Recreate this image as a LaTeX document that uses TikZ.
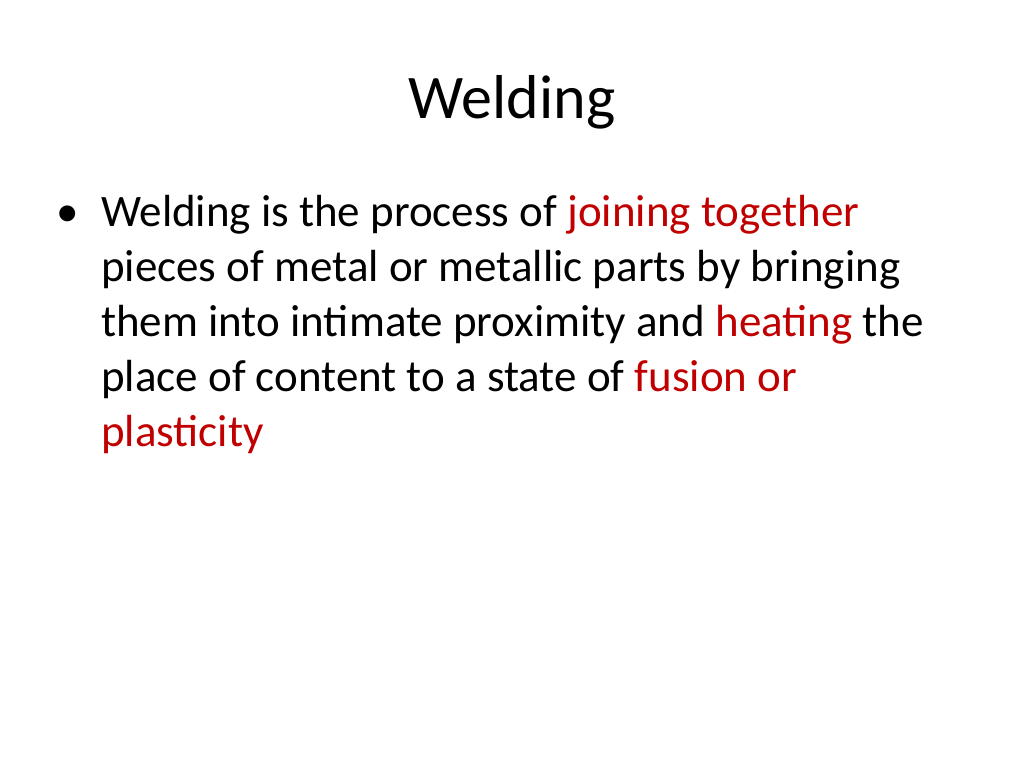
\documentclass[tikz,border=0pt]{standalone}
\usepackage{fontspec}
\setmainfont{Carlito}
\usepackage{xcolor}
\definecolor{slidered}{HTML}{C00000}
\begin{document}
\begin{tikzpicture}[
    x=1pt, y=-1pt,
    every node/.style={inner sep=0pt, anchor=base west},
    body/.style={font=\fontsize{45}{55}\selectfont},
    hl/.style={text=slidered}
]
\useasboundingbox (0,0) rectangle (1024,768);

% Title
\node[anchor=base, font=\fontsize{62}{70}\selectfont] (title) at (512,118) {Welding};

% Bullet text
\node[body] (bullet) at (56,226) {\textbullet};
\node[body] (line1) at (101,226) {Welding is the process of \textcolor{slidered}{joining together}};
\node[body] (line2) at (101,281) {pieces of metal or metallic parts by bringing};
\node[body] (line3) at (101,336) {them into intimate proximity and \textcolor{slidered}{heating} the};
\node[body] (line4) at (101,391) {place of content to a state of \textcolor{slidered}{fusion or}};
\node[body, hl] (line5) at (101,446) {plasticity};

\end{tikzpicture}
\end{document}
